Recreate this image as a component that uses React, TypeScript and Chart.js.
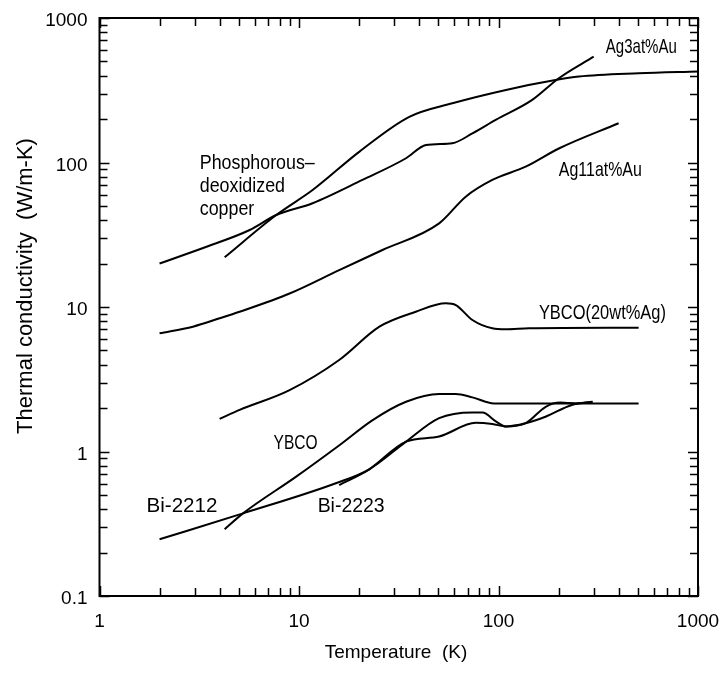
import React, { useEffect, useRef } from "react";
import { Chart, registerables } from "chart.js";

Chart.register(...registerables);

// ---- Data (temperature in K, thermal conductivity in W/m-K) ----
const copperT = [4.24, 7.69, 11.7, 20.1, 35.7, 58.7, 109, 193, 253, 504, 1000];
const copperK = [22.1, 43.3, 64.5, 119, 207, 257, 318, 372, 393, 414, 426];

const ag3T = [2, 3.44, 5.66, 7.69, 11.7, 20.8, 34.4, 43.3, 58.7, 74, 96.8, 147.6, 200.7, 300];
const ag3K = [20, 26.1, 34.1, 43.3, 52.2, 75.7, 107, 132, 136, 159, 197, 271, 383, 540];

const ag11T = [2, 2.94, 4.0, 5.04, 8.97, 15.9, 26.2, 50.4, 68.5, 93.1, 136.8, 200.7, 400];
const ag11K = [6.58, 7.31, 8.35, 9.27, 12.4, 18.0, 24.8, 37.9, 58.0, 75.7, 93.5, 125, 187];

const ybcoAgT = [4.0, 5.04, 8.97, 15.9, 25.3, 38.5, 54.5, 61.1, 74, 93.1, 108.6, 142, 504];
const ybcoAgK = [1.68, 1.94, 2.66, 4.3, 7.31, 9.27, 10.6, 10.3, 8.13, 7.12, 7.01, 7.12, 7.19];

const ybcoT = [4.24, 5.24, 9.68, 16.0, 23.4, 34.4, 50.4, 61.1, 74, 94.9, 504];
const ybcoK = [0.29, 0.373, 0.67, 1.11, 1.65, 2.21, 2.5, 2.5, 2.37, 2.15, 2.15];

const bi2212T = [2, 5.24, 15.3, 22.5, 34.4, 50.4, 74, 83.1, 97.4, 108.9, 136.9, 172.4, 204, 243, 296];
const bi2212K = [0.247, 0.373, 0.603, 0.753, 1.17, 1.7, 1.86, 1.86, 1.61, 1.49, 1.57, 2.04, 2.18, 2.15, 2.21];

const bi2223T = [15.9, 22.5, 34.4, 50.4, 76.9, 93.2, 108.9, 136.9, 172, 233, 296];
const bi2223K = [0.586, 0.753, 1.17, 1.27, 1.58, 1.55, 1.49, 1.57, 1.74, 2.1, 2.21];

// Tick labels
const xTickValues = [1, 10, 100, 1000];
const xTickLabels = ["1", "10", "100", "1000"];
const yTickValues = [0.1, 1, 10, 100, 1000];
const yTickLabels = ["0.1", "1", "10", "100", "1000"];

// Curve labels: text lines, anchored (left, middle of first line) at a data point
const labelTexts = [
  ["Ag3at%Au"],
  ["Ag11at%Au"],
  ["Phosphorous–", "deoxidized", "copper"],
  ["YBCO(20wt%Ag)"],
  ["YBCO"],
  ["Bi-2212"],
  ["Bi-2223"],
];
const labelT = [345, 200.7, 3.18, 159.4, 7.46, 1.72, 12.4];
const labelK = [630, 88.7, 98.7, 9.04, 1.15, 0.415, 0.415];

const xTitle = "Temperature  (K)";
const yTitle = "Thermal conductivity  (W/m-K)";

// ---- styling (not data) ----
const FONT = '"Liberation Sans", Arial, sans-serif';
const labelWidths = [71, 83, 115, 127, 44, 71, 67]; // rendered width of first line, px

const zip = (t: number[], k: number[]) => t.map((x, i) => ({ x, y: k[i] }));

const overlay = {
  id: "overlay",
  afterDraw(chart: any) {
    const { ctx, chartArea: a, scales } = chart;
    const xs = scales.x;
    const ys = scales.y;
    ctx.save();
    ctx.strokeStyle = "#000";
    ctx.lineWidth = 2;
    ctx.strokeRect(a.left, a.top, a.right - a.left, a.bottom - a.top);

    // inward ticks on all four sides
    ctx.lineWidth = 1.5;
    const major = 10;
    const minor = 8;
    for (let d = 0; d <= 3; d++) {
      for (let m = 1; m <= 9; m++) {
        const v = m * Math.pow(10, d);
        if (v > 1000 || v < 1) continue;
        const px = Math.round(xs.getPixelForValue(v)) + 0.5;
        const len = m === 1 ? major : minor;
        ctx.beginPath();
        ctx.moveTo(px, a.bottom);
        ctx.lineTo(px, a.bottom - len);
        ctx.moveTo(px, a.top);
        ctx.lineTo(px, a.top + len);
        ctx.stroke();
      }
    }
    for (let d = -1; d <= 3; d++) {
      for (let m = 1; m <= 9; m++) {
        const v = m * Math.pow(10, d);
        if (v > 1000.0001 || v < 0.0999) continue;
        const py = Math.round(ys.getPixelForValue(v)) + 0.5;
        const len = m === 1 ? major : minor;
        ctx.beginPath();
        ctx.moveTo(a.left, py);
        ctx.lineTo(a.left + len, py);
        ctx.moveTo(a.right, py);
        ctx.lineTo(a.right - len, py);
        ctx.stroke();
      }
    }

    ctx.fillStyle = "#000";

    // tick labels
    ctx.font = `19px ${FONT}`;
    ctx.textBaseline = "middle";
    ctx.textAlign = "center";
    xTickValues.forEach((v, i) => {
      ctx.fillText(xTickLabels[i], xs.getPixelForValue(v), a.bottom + 26);
    });
    ctx.textAlign = "right";
    yTickValues.forEach((v, i) => {
      ctx.fillText(yTickLabels[i], a.left - 12, ys.getPixelForValue(v) + 3);
    });

    // curve labels (condensed lettering)
    ctx.font = `21px ${FONT}`;
    ctx.textAlign = "left";
    labelTexts.forEach((lines, i) => {
      const px = xs.getPixelForValue(labelT[i]);
      const py = ys.getPixelForValue(labelK[i]);
      const w = ctx.measureText(lines[0]).width;
      const sx = labelWidths[i] / w;
      ctx.save();
      ctx.translate(px, py);
      ctx.scale(sx, 1);
      lines.forEach((s, j) => ctx.fillText(s, 0, j * 23));
      ctx.restore();
    });

    // axis titles
    ctx.font = `19px ${FONT}`;
    ctx.textAlign = "center";
    ctx.fillText(xTitle, 396, 653);
    ctx.font = `22px ${FONT}`;
    ctx.translate(26, 286);
    ctx.rotate(-Math.PI / 2);
    ctx.fillText(yTitle, 0, 0);
    ctx.restore();
  },
};

export default function App() {
  const ref = useRef<HTMLCanvasElement>(null);
  useEffect(() => {
    if (!ref.current) return;
    const lineStyle = {
      borderColor: "#000",
      borderWidth: 2,
      pointRadius: 0,
      fill: false,
      cubicInterpolationMode: "monotone" as const,
    };
    const chart = new Chart(ref.current, {
      type: "line",
      data: {
        datasets: [
          { label: "Phosphorous-deoxidized copper", data: zip(copperT, copperK), ...lineStyle },
          { label: "Ag3at%Au", data: zip(ag3T, ag3K), ...lineStyle },
          { label: "Ag11at%Au", data: zip(ag11T, ag11K), ...lineStyle },
          { label: "YBCO(20wt%Ag)", data: zip(ybcoAgT, ybcoAgK), ...lineStyle },
          { label: "YBCO", data: zip(ybcoT, ybcoK), ...lineStyle },
          { label: "Bi-2212", data: zip(bi2212T, bi2212K), ...lineStyle },
          { label: "Bi-2223", data: zip(bi2223T, bi2223K), ...lineStyle },
        ],
      },
      options: {
        animation: false,
        responsive: false,
        devicePixelRatio: 1,
        layout: { padding: { top: 18, right: 27, left: 0, bottom: 0 } },
        plugins: { legend: { display: false }, tooltip: { enabled: false } },
        scales: {
          x: {
            type: "logarithmic",
            min: 1,
            max: 1000,
            grid: { display: false, drawTicks: false },
            border: { display: false },
            ticks: { display: false },
            afterFit: (s: any) => {
              s.height = 77;
            },
          },
          y: {
            type: "logarithmic",
            min: 0.1,
            max: 1000,
            grid: { display: false, drawTicks: false },
            border: { display: false },
            ticks: { display: false },
            afterFit: (s: any) => {
              s.width = 99.5;
            },
          },
        },
      },
      plugins: [overlay],
    });
    return () => chart.destroy();
  }, []);
  return (
    <div style={{ position: "absolute", left: 0, top: 0, width: 725, height: 673, background: "#fff" }}>
      <canvas ref={ref} width={725} height={673} style={{ width: 725, height: 673 }} />
    </div>
  );
}
